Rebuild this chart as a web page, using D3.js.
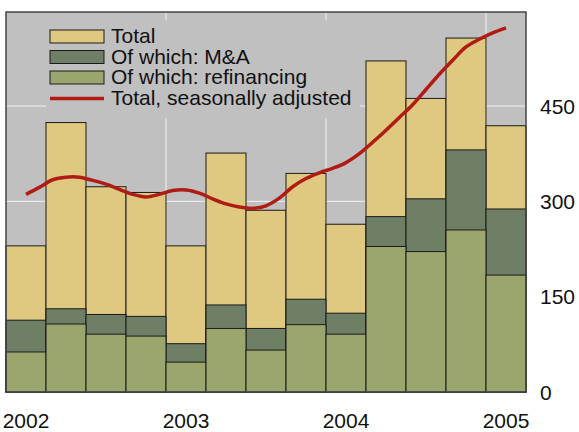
<!DOCTYPE html>
<html lang="en">
<head>
<meta charset="UTF-8">
<title>Lending: total, M&A and refinancing</title>
<script src="https://d3js.org/d3.v7.min.js"></script>
<style>
  body { margin: 0; background: #fff; }
  svg { display: block; font-family: "Liberation Sans", Arial, sans-serif; }
</style>
</head>
<body>
<svg id="chart" width="579" height="432"></svg>
<script>
// quarterly bars, 2002 Q1 .. 2005 Q1
const quarters = ["2002Q1","2002Q2","2002Q3","2002Q4","2003Q1","2003Q2","2003Q3","2003Q4",
                  "2004Q1","2004Q2","2004Q3","2004Q4","2005Q1"];
const totalVals = [230, 424, 323, 314, 230, 376, 286, 344, 264, 521, 462, 557, 419];
const maVals    = [113, 131, 122, 119, 76, 137, 100, 146, 124, 276, 304, 381, 288];
const refiVals  = [63, 107, 91, 88, 47, 100, 66, 106, 91, 229, 221, 255, 184];
// monthly seasonally adjusted total, Jan 2002 .. Jan 2005
const saVals = [311, 322, 334, 338, 338, 333, 327, 319, 311, 307, 311, 317, 318,
                313, 304, 296, 291, 289, 293, 305, 323, 336, 345, 352, 361, 375,
                393, 412, 432, 452, 476, 500, 522, 543, 555, 565, 573];
const yTicks = [0, 150, 300, 450];
const yearLabels = ["2002", "2003", "2004", "2005"];

const svg = d3.select("#chart");
const pLeft = 6, pRight = 526, pTop = 12, pBottom = 392;

const x = d3.scaleBand().domain(quarters).range([pLeft, pRight]).padding(0);
const y = d3.scaleLinear().domain([0, 598]).range([pBottom, pTop]);
// month index -> x, month 0 at centre of first quarter bar
const xm = d3.scaleLinear().domain([0, 36])
  .range([x(quarters[0]) + x.bandwidth() / 2, x(quarters[12]) + x.bandwidth() / 2]);

svg.append("rect").attr("x", pLeft).attr("y", pTop)
  .attr("width", pRight - pLeft).attr("height", pBottom - pTop).attr("fill", "#c0c0c0");

// grid
svg.append("g").selectAll("line").data(yTicks.slice(1)).join("line")
  .attr("x1", pLeft).attr("x2", pRight).attr("y1", d => y(d)).attr("y2", d => y(d))
  .attr("stroke", "#f2f2f2").attr("stroke-width", 1);
svg.append("g").selectAll("line").data(["2003Q1", "2004Q1", "2005Q1"]).join("line")
  .attr("x1", d => x(d)).attr("x2", d => x(d)).attr("y1", pTop).attr("y2", pBottom)
  .attr("stroke", "#f2f2f2").attr("stroke-width", 1);

// legend background hides the grid behind it
svg.append("rect").attr("x", 46).attr("y", 20).attr("width", 314).attr("height", 98)
  .attr("fill", "#c0c0c0");

// bars
const layers = [
  { vals: totalVals, fill: "#dfc87f" },
  { vals: maVals, fill: "#6e7f66" },
  { vals: refiVals, fill: "#9ba56e" }
];
layers.forEach(l => {
  svg.append("g").selectAll("rect").data(quarters).join("rect")
    .attr("x", d => x(d)).attr("width", x.bandwidth())
    .attr("y", (d, i) => y(l.vals[i]))
    .attr("height", (d, i) => y(0) - y(l.vals[i]))
    .attr("fill", l.fill).attr("stroke", "#1a1a1a").attr("stroke-width", 1);
});

// seasonally adjusted line
svg.append("path").datum(saVals)
  .attr("d", d3.line().x((d, i) => xm(i)).y(d => y(d)).curve(d3.curveCatmullRom))
  .attr("fill", "none").attr("stroke", "#b01c14").attr("stroke-width", 3.5)
  .attr("stroke-linecap", "butt");

// frame
svg.append("rect").attr("x", pLeft).attr("y", pTop)
  .attr("width", pRight - pLeft).attr("height", pBottom - pTop)
  .attr("fill", "none").attr("stroke", "#444").attr("stroke-width", 1.5);

// right axis labels
svg.append("g").selectAll("text").data(yTicks).join("text")
  .attr("x", 540).attr("y", d => y(d)).attr("dy", "0.36em")
  .attr("font-size", 21).attr("fill", "#111").text(d => d);

// year labels at the first-quarter bar of each year
svg.append("g").selectAll("text").data(yearLabels).join("text")
  .attr("x", d => x(d + "Q1") + x.bandwidth() / 2).attr("y", 428)
  .attr("text-anchor", "middle").attr("font-size", 21).attr("fill", "#111").text(d => d);

// legend
const legendItems = [
  { label: "Total", fill: "#dfc87f" },
  { label: "Of which: M&A", fill: "#6e7f66" },
  { label: "Of which: refinancing", fill: "#9ba56e" },
  { label: "Total, seasonally adjusted", line: "#b01c14" }
];
const lg = svg.append("g").attr("transform", "translate(50,30)");
legendItems.forEach((d, i) => {
  const row = lg.append("g").attr("transform", `translate(0,${i * 20.5})`);
  if (d.line) {
    row.append("line").attr("x1", 0).attr("x2", 54).attr("y1", 7).attr("y2", 7)
      .attr("stroke", d.line).attr("stroke-width", 3.5);
  } else {
    row.append("rect").attr("x", 0).attr("y", 0).attr("width", 54).attr("height", 13)
      .attr("fill", d.fill).attr("stroke", "#1a1a1a").attr("stroke-width", 1);
  }
  row.append("text").attr("x", 61).attr("y", 13).attr("font-size", 21)
    .attr("fill", "#111").text(d.label);
});
</script>
</body>
</html>
